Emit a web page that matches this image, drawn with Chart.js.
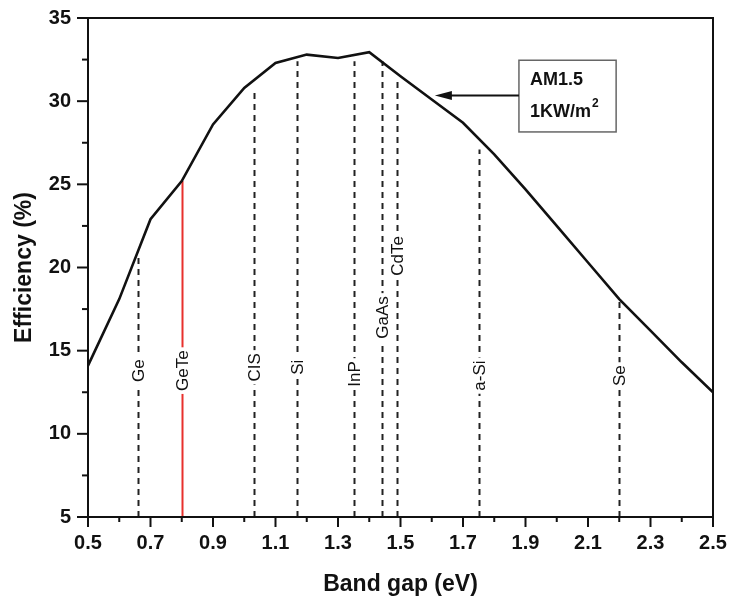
<!DOCTYPE html>
<html>
<head>
<meta charset="utf-8">
<script src="https://cdn.jsdelivr.net/npm/chart.js@4.4.1/dist/chart.umd.min.js"></script>
<style>
  body { margin: 0; background: #fff; }
  #wrap { width: 730px; height: 601px; }
</style>
</head>
<body>
<div id="wrap"><canvas id="chart" width="730" height="601"></canvas></div>
<script>
// efficiency limit curve
const bandGap = [0.5, 0.6, 0.7, 0.8, 0.9, 1.0, 1.1, 1.2, 1.3, 1.4, 1.5, 1.6, 1.7, 1.8, 1.9, 2.0, 2.1, 2.2, 2.3, 2.4, 2.5];
const efficiency = [14.1, 18.1, 22.9, 25.2, 28.6, 30.8, 32.3, 32.8, 32.6, 32.95, 31.5, 30.1, 28.7, 26.8, 24.7, 22.5, 20.3, 18.1, 16.2, 14.3, 12.5];

// materials marked with vertical lines
const materials = ['Ge', 'GeTe', 'CIS', 'Si', 'InP', 'GaAs', 'CdTe', 'a-Si', 'Se'];
const materialGap = [0.66, 0.8, 1.03, 1.17, 1.35, 1.44, 1.49, 1.75, 2.2];
const materialTop = [20.8, 25.2, 30.6, 32.4, 32.4, 32.4, 31.4, 27.1, 18.1];
const labelLevel = [13.8, 13.8, 14.0, 14.0, 13.6, 17.0, 20.7, 13.5, 13.5];
const highlighted = 'GeTe';

const xTicks = [0.5, 0.7, 0.9, 1.1, 1.3, 1.5, 1.7, 1.9, 2.1, 2.3, 2.5];
const yTicks = [5, 10, 15, 20, 25, 30, 35];

const FONT = 'Liberation Sans, Arial, Helvetica, sans-serif';
const INK = '#111';

const decorations = {
  id: 'decorations',
  beforeDatasetsDraw(chart) {
    const { ctx, chartArea: a, scales: { x, y } } = chart;
    ctx.save();
    ctx.font = '17px ' + FONT;
    materials.forEach((name, i) => {
      const px = Math.round(x.getPixelForValue(materialGap[i])) + 0.5;
      const red = name === highlighted;
      ctx.strokeStyle = red ? '#e8302c' : '#222';
      ctx.lineWidth = 2;
      ctx.setLineDash(red ? [] : [6, 5]);
      ctx.beginPath();
      ctx.moveTo(px, a.bottom);
      ctx.lineTo(px, y.getPixelForValue(materialTop[i]));
      ctx.stroke();
      // rotated label
      const py = y.getPixelForValue(labelLevel[i]);
      const w = ctx.measureText(name).width;
      ctx.save();
      ctx.translate(px, py);
      ctx.rotate(-Math.PI / 2);
      ctx.fillStyle = '#fff';
      ctx.fillRect(-w / 2 - 3, -8, w + 6, 16);
      ctx.fillStyle = INK;
      ctx.textAlign = 'center';
      ctx.textBaseline = 'middle';
      ctx.fillText(name, 0, 1);
      ctx.restore();
    });
    ctx.restore();
  },
  afterDraw(chart) {
    const { ctx, chartArea: a, scales: { x, y } } = chart;
    ctx.save();
    ctx.strokeStyle = INK;
    ctx.lineWidth = 2;
    ctx.setLineDash([]);
    ctx.strokeRect(a.left, a.top, a.right - a.left, a.bottom - a.top);

    // x ticks, major and minor
    for (let v = 5; v <= 25; v++) {
      const px = x.getPixelForValue(v / 10);
      const len = v % 2 === 1 ? 10 : 5;
      ctx.beginPath();
      ctx.moveTo(px, a.bottom);
      ctx.lineTo(px, a.bottom + len);
      ctx.stroke();
    }
    // y ticks
    for (let v = 5; v <= 35; v += 2.5) {
      const py = y.getPixelForValue(v);
      const len = v % 5 === 0 ? 11 : 6;
      ctx.beginPath();
      ctx.moveTo(a.left, py);
      ctx.lineTo(a.left - len, py);
      ctx.stroke();
    }

    // AM1.5 annotation box
    const bx0 = x.getPixelForValue(1.879), bx1 = x.getPixelForValue(2.19);
    const by0 = y.getPixelForValue(32.46), by1 = y.getPixelForValue(28.15);
    ctx.strokeStyle = '#666';
    ctx.lineWidth = 1.5;
    ctx.strokeRect(bx0, by0, bx1 - bx0, by1 - by0);
    ctx.fillStyle = INK;
    ctx.font = 'bold 18px ' + FONT;
    ctx.textBaseline = 'middle';
    ctx.fillText('AM1.5', bx0 + 11, by0 + 20);
    const t = '1KW/m';
    ctx.fillText(t, bx0 + 11, by0 + 52);
    const tw = ctx.measureText(t).width;
    ctx.font = 'bold 12px ' + FONT;
    ctx.fillText('2', bx0 + 11 + tw + 1, by0 + 43);

    // arrow to curve
    const ay = y.getPixelForValue(30.34);
    const tip = x.getPixelForValue(1.61);
    ctx.strokeStyle = INK;
    ctx.lineWidth = 2;
    ctx.beginPath();
    ctx.moveTo(bx0, ay);
    ctx.lineTo(tip + 12, ay);
    ctx.stroke();
    ctx.beginPath();
    ctx.moveTo(tip, ay);
    ctx.lineTo(tip + 17, ay - 4.5);
    ctx.lineTo(tip + 17, ay + 4.5);
    ctx.closePath();
    ctx.fill();
    ctx.restore();
  }
};

new Chart(document.getElementById('chart'), {
  type: 'scatter',
  data: {
    datasets: [{
      data: bandGap.map((b, i) => ({ x: b, y: efficiency[i] })),
      showLine: true,
      borderColor: INK,
      borderWidth: 2.6,
      pointRadius: 0,
      tension: 0,
    }],
  },
  options: {
    responsive: false,
    animation: false,
    layout: { padding: { left: 0, right: 17, top: 18, bottom: 0 } },
    plugins: { legend: { display: false }, tooltip: { enabled: false } },
    scales: {
      x: {
        type: 'linear',
        min: 0.5,
        max: 2.5,
        afterBuildTicks: (s) => { s.ticks = xTicks.map((v) => ({ value: v })); },
        afterFit: (s) => { s.height = 84; s.paddingLeft = 0; s.paddingRight = 0; },
        grid: { display: false, drawTicks: false },
        border: { display: false },
        ticks: {
          color: INK,
          font: { family: FONT, size: 20, weight: 'bold' },
          padding: 14,
          maxRotation: 0,
          autoSkip: false,
          callback: (v) => v.toFixed(1),
        },
        title: {
          display: true,
          text: 'Band gap (eV)',
          color: INK,
          font: { family: FONT, size: 23, weight: 'bold' },
          padding: { top: 0, bottom: 3 },
        },
      },
      y: {
        min: 5,
        max: 35,
        afterBuildTicks: (s) => { s.ticks = yTicks.map((v) => ({ value: v })); },
        afterFit: (s) => { s.width = 88; s.paddingTop = 0; s.paddingBottom = 0; },
        grid: { display: false, drawTicks: false },
        border: { display: false },
        ticks: {
          color: INK,
          font: { family: FONT, size: 20, weight: 'bold' },
          padding: 17,
        },
        title: {
          display: true,
          text: 'Efficiency (%)',
          color: INK,
          font: { family: FONT, size: 23, weight: 'bold' },
          padding: { top: 11, bottom: 0 },
        },
      },
    },
  },
  plugins: [decorations],
});
</script>
</body>
</html>
